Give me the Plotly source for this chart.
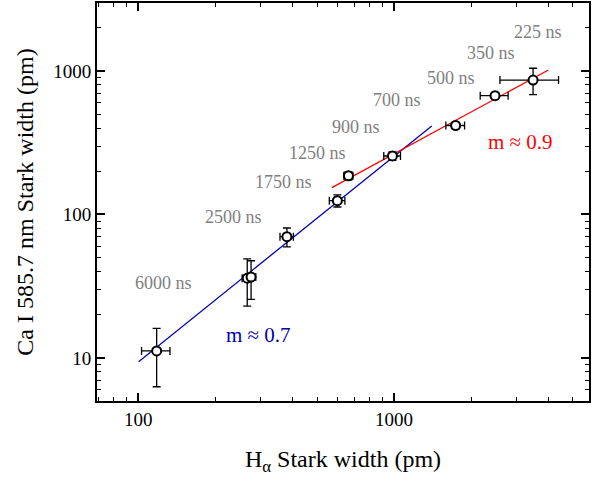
import plotly.graph_objects as go
import numpy as np

# Data: H-alpha Stark width (pm) vs Ca I 585.7 nm Stark width (pm)
h_alpha = [118, 266.6, 276, 381, 600, 663, 985, 1739, 2480, 3492]
ca_width = [11.2, 36.0, 36.6, 70, 124.8, 186, 255.7, 417, 673, 865]
h_alpha_err = [15, 12, 12, 23, 42, 27, 74, 146, 310, 900]
ca_err = [4.9, 13, 11, 10.5, 12, 12, 17, 20, 33, 180]

# Fit lines (end points of the fitted power laws)
fit_low_x = [100.3, 1403]
fit_low_y = [9.42, 414]
fit_high_x = [571, 4009]
fit_high_y = [153.8, 1016]

# Delay-time labels
delay_labels = ["225 ns", "350 ns", "500 ns", "700 ns", "900 ns",
                "1250 ns", "1750 ns", "2500 ns", "6000 ns"]
delay_label_x = [3656, 2393, 1671, 1027, 710, 502, 368, 235.7, 126]
delay_label_y = [1870, 1334, 893, 628, 407, 268, 168.5, 96, 33.3]

slope_labels = ["m ≈ 0.7", "m ≈ 0.9"]
slope_label_x = [295, 3111]
slope_label_y = [14.45, 320]
slope_colors = ["#0000b0", "#ff0000"]

x_major = [100, 1000]
y_major = [10, 100, 1000]
x_minor = [70, 80, 90] + [k * 100 for k in range(2, 10)] + [k * 1000 for k in range(2, 6)]
y_minor = [6, 7, 8, 9] + [k * 10 for k in range(2, 10)] + [k * 100 for k in range(2, 10)] + [2000]

FONT = "Liberation Serif"

fig = go.Figure()

fig.add_trace(go.Scatter(x=fit_low_x, y=fit_low_y, mode="lines",
                         line=dict(color="#0000b0", width=1.3), showlegend=False))
fig.add_trace(go.Scatter(x=fit_high_x, y=fit_high_y, mode="lines",
                         line=dict(color="#ff0000", width=1.3), showlegend=False))

fig.add_trace(go.Scatter(
    x=h_alpha, y=ca_width, mode="markers",
    marker=dict(symbol="circle", size=9, color="white",
                line=dict(color="black", width=2)),
    error_x=dict(type="data", array=h_alpha_err, color="black", thickness=1.3, width=4),
    error_y=dict(type="data", array=ca_err, color="black", thickness=1.3, width=4),
    showlegend=False))

annotations = []
for t, x, y in zip(delay_labels, delay_label_x, delay_label_y):
    annotations.append(dict(x=np.log10(x), y=np.log10(y), text=t, showarrow=False,
                            xanchor="center", yanchor="middle",
                            font=dict(family=FONT, size=18, color="#808080")))
for t, x, y, c in zip(slope_labels, slope_label_x, slope_label_y, slope_colors):
    annotations.append(dict(x=np.log10(x), y=np.log10(y), text=t, showarrow=False,
                            xanchor="center", yanchor="middle",
                            font=dict(family=FONT, size=21, color=c)))

axis_common = dict(
    type="log", showgrid=False, zeroline=False, automargin=False,
    showline=True, linecolor="black", linewidth=2, mirror="allticks",
    ticks="inside", ticklen=8, tickwidth=1.5, tickcolor="black",
    tickfont=dict(family=FONT, size=19, color="black"),
)

fig.update_xaxes(
    **axis_common,
    range=[1.8387, 3.7617],
    tickmode="array", tickvals=x_major, ticktext=[str(v) for v in x_major],
    minor=dict(tickmode="array", tickvals=x_minor, ticks="inside", ticklen=4,
               tickwidth=1.2, tickcolor="black"),
    title=dict(text="H<sub>α</sub> Stark width (pm)",
               font=dict(family=FONT, size=24, color="black"), standoff=21),
)
fig.update_yaxes(
    **axis_common,
    range=[0.700, 3.474],
    tickmode="array", tickvals=y_major, ticktext=[str(v) for v in y_major],
    minor=dict(tickmode="array", tickvals=y_minor, ticks="inside", ticklen=4,
               tickwidth=1.2, tickcolor="black"),
    title=dict(text="Ca I 585.7 nm Stark width (pm)",
               font=dict(family=FONT, size=24, color="black"), standoff=13),
)

fig.update_layout(
    width=601, height=483,
    margin=dict(l=97, r=12, t=3, b=82),
    paper_bgcolor="white", plot_bgcolor="white",
    annotations=annotations,
    font=dict(family=FONT),
)

fig.write_html("out.html", config={"displayModeBar": False},
               post_script="document.body.style.margin='0px';")
